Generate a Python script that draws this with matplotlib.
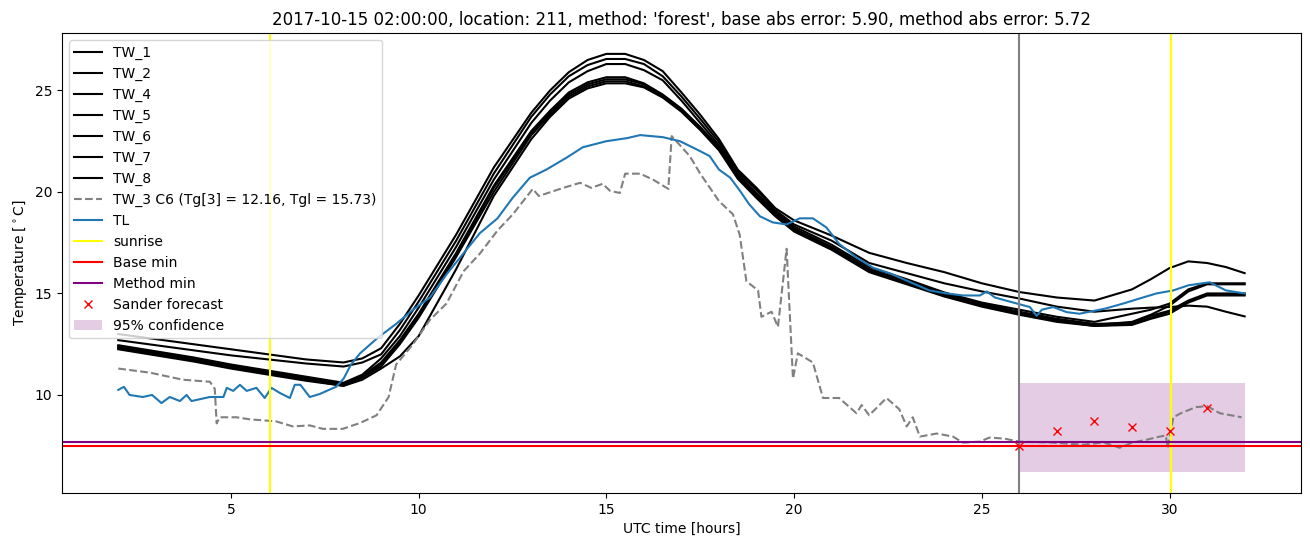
import numpy as np
import matplotlib
matplotlib.use("Agg")
import matplotlib.pyplot as plt

# time grid (hours) for the TW sensor lines
t_tw = [2, 3, 4, 5, 6, 7, 8, 8.5, 9, 9.5, 10, 11, 12, 13, 13.5, 14, 14.5, 15, 15.5, 16, 16.5, 17, 17.5,
        18, 18.5, 19, 19.5, 20, 21, 22, 23, 24, 25, 26, 27, 28, 29, 29.5, 30, 30.5, 31, 31.5, 32]

TW_1 = [13.0, 12.75, 12.5, 12.25, 12.0, 11.75, 11.6, 11.8, 12.3, 13.5, 14.9, 17.9, 21.2, 23.9, 25.0, 25.9,
        26.5, 26.8, 26.8, 26.5, 25.95, 24.9, 23.8, 22.6, 21.1, 20.2, 19.2, 18.6, 17.85, 17.0, 16.5, 16.05,
        15.5, 15.07, 14.8, 14.65, 15.2, 15.7, 16.25, 16.58, 16.5, 16.3, 16.0]
TW_2 = [12.7, 12.45, 12.2, 11.95, 11.75, 11.55, 11.4, 11.6, 12.0, 13.2, 14.6, 17.6, 20.9, 23.7, 24.8, 25.7,
        26.25, 26.55, 26.55, 26.3, 25.7, 24.7, 23.6, 22.45, 21.0, 20.1, 19.1, 18.4, 17.6, 16.5, 16.0, 15.5,
        15.1, 14.75, 14.35, 14.1, 14.25, 14.3, 14.33, 14.4, 14.35, 14.1, 13.87]
TW_4 = [12.45, 12.15, 11.85, 11.5, 11.2, 10.9, 10.6, 11.0, 11.8, 12.9, 14.3, 17.3, 20.6, 23.4, 24.5, 25.4,
        25.95, 26.3, 26.3, 26.0, 25.5, 24.5, 23.4, 22.3, 20.9, 19.95, 19.0, 18.3, 17.4, 16.3, 15.7, 15.05,
        14.55, 14.2, 13.85, 13.6, 14.0, 14.2, 14.5, 15.2, 15.5, 15.5, 15.5]
TW_5 = [12.4, 12.1, 11.8, 11.45, 11.15, 10.85, 10.55, 10.95, 11.6, 12.7, 14.0, 17.0, 20.3, 23.0, 24.0, 24.9,
        25.4, 25.65, 25.65, 25.35, 24.8, 24.1, 23.2, 22.2, 20.8, 19.85, 18.95, 18.2, 17.3, 16.2, 15.6, 15.0,
        14.5, 14.1, 13.75, 13.5, 13.55, 13.9, 14.15, 14.65, 15.0, 15.0, 15.0]
TW_6 = [12.35, 12.05, 11.75, 11.4, 11.1, 10.8, 10.5, 10.9, 11.5, 12.6, 13.9, 16.9, 20.2, 22.9, 23.9, 24.8,
        25.3, 25.55, 25.55, 25.3, 24.75, 24.05, 23.15, 22.15, 20.75, 19.8, 18.9, 18.15, 17.25, 16.15, 15.55,
        14.95, 14.45, 14.05, 13.7, 13.45, 13.6, 13.95, 14.4, 15.1, 15.45, 15.45, 15.45]
TW_7 = [12.3, 12.0, 11.7, 11.35, 11.05, 10.75, 10.45, 10.85, 11.4, 12.5, 13.8, 16.8, 20.0, 22.8, 23.8, 24.7,
        25.2, 25.45, 25.45, 25.2, 24.7, 24.0, 23.1, 22.1, 20.7, 19.75, 18.85, 18.1, 17.2, 16.1, 15.5, 14.9,
        14.4, 14.0, 13.65, 13.4, 13.5, 13.8, 14.1, 14.6, 14.95, 14.95, 14.95]
TW_8 = [12.25, 11.95, 11.65, 11.3, 11.0, 10.7, 10.45, 10.75, 11.3, 11.9, 12.9, 16.2, 19.8, 22.6, 23.7, 24.6,
        25.1, 25.35, 25.35, 25.15, 24.65, 23.95, 23.05, 22.05, 20.65, 19.7, 18.8, 18.05, 17.15, 16.05, 15.45,
        14.85, 14.35, 13.95, 13.6, 13.4, 13.45, 13.75, 14.0, 14.55, 14.9, 14.9, 14.9]

t_tw3 = [2.0, 2.84, 3.72, 4.44, 4.57, 4.62, 4.7, 5.15, 5.5, 6.2, 6.65, 7.1, 7.45, 7.98, 8.44, 8.88, 9.2, 9.4,
         9.85, 10.3, 10.74, 11.2, 11.63, 12.1, 12.51, 13.04, 13.2, 13.85, 14.3, 14.6, 14.9, 15.1, 15.36, 15.5,
         15.9, 16.25, 16.65, 16.74, 17.22, 17.5, 18.0, 18.37, 18.55, 18.73, 19.04, 19.13, 19.4, 19.57, 19.8,
         19.97, 20.1, 20.5, 20.77, 21.2, 21.66, 21.8, 22.0, 22.46, 22.8, 23.0, 23.16, 23.35, 23.8, 24.23, 24.5,
         24.95, 25.2, 25.6, 26.0, 26.8, 27.7, 28.25, 28.67, 29.0, 29.4, 29.74, 29.9, 29.95, 30.1, 30.3, 30.7,
         31.0, 31.34, 31.92]
TW_3 = [11.3, 11.1, 10.75, 10.65, 10.3, 8.6, 8.9, 8.9, 8.8, 8.7, 8.45, 8.5, 8.33, 8.33, 8.62, 9.0, 9.9, 11.5,
        12.5, 13.7, 14.5, 16.1, 16.96, 18.1, 18.9, 20.15, 19.8, 20.2, 20.45, 20.2, 20.4, 20.05, 19.95, 20.9,
        20.9, 20.6, 20.15, 22.75, 21.77, 20.9, 19.55, 18.9, 17.9, 15.6, 15.15, 13.85, 14.1, 13.35, 17.2,
        10.8, 12.05, 11.6, 9.85, 9.85, 9.1, 9.5, 9.0, 9.85, 9.3, 8.45, 8.9, 7.95, 8.1, 7.95, 7.65,
        7.7, 7.9, 7.85, 7.7, 7.66, 7.55, 7.66, 7.4, 7.65, 7.8, 7.95, 8.0, 7.4, 8.9, 9.1, 9.4,
        9.45, 9.1, 8.9]

t_tl = [2.0, 2.15, 2.3, 2.65, 2.9, 3.15, 3.37, 3.64, 3.82, 3.95, 4.44, 4.8, 4.89, 5.06, 5.24, 5.42, 5.68, 5.9,
        6.08, 6.3, 6.57, 6.7, 6.85, 7.1, 7.37, 7.55, 7.8, 8.0, 8.2, 8.44, 8.9, 9.4, 9.85, 10.3, 10.75, 11.63,
        12.1, 12.5, 12.96, 13.4, 13.95, 14.37, 15.0, 15.55, 15.9, 16.5, 16.96, 17.4, 17.75, 18.0, 18.3, 18.56,
        18.8, 19.09, 19.43, 19.8, 20.15, 20.5, 20.86, 21.2, 21.66, 22.1, 22.6, 23.16, 23.6, 24.06, 24.5,
        24.95, 25.13, 25.35, 25.8, 26.28, 26.46, 26.6, 26.9, 27.26, 27.6, 28.3, 28.76, 29.2, 29.65, 30.1,
        30.5, 31.07, 31.5, 32.0]
TL = [10.25, 10.4, 10.0, 9.9, 10.0, 9.6, 9.9, 9.7, 10.0, 9.7, 9.9, 9.9, 10.35, 10.2, 10.5, 10.2, 10.35, 9.85,
      10.35, 10.1, 9.85, 10.5, 10.5, 9.9, 10.05, 10.2, 10.4, 10.8, 11.5, 12.05, 12.8, 13.5, 14.2, 14.8, 15.96,
      17.97, 18.7, 19.7, 20.7, 21.1, 21.7, 22.2, 22.5, 22.65, 22.8, 22.7, 22.5, 22.1, 21.77, 21.1, 20.7, 20.05,
      19.4, 18.8, 18.5, 18.4, 18.7, 18.7, 18.25, 17.44, 16.77, 16.27, 15.96, 15.5, 15.15, 15.0, 14.9,
      14.9, 15.1, 14.8, 14.57, 14.33, 13.9, 14.2, 14.33, 14.08, 14.0, 14.26, 14.5, 14.75, 15.0, 15.15,
      15.4, 15.55, 15.15, 15.0]

sunrise = [6.04, 30.05]
now_hour = 26.0
base_min = 7.50
method_min = 7.68

t_sander = [26, 27, 28, 29, 30, 31]
sander = [7.5, 8.2, 8.7, 8.42, 8.24, 9.35]
conf_t = [26, 32]
conf_low = 6.2
conf_high = 10.6

fig = plt.figure(figsize=(13.1, 5.47), dpi=100)
ax = fig.add_axes([0.0473, 0.0987, 0.9458, 0.841])

for name, vals in [("TW_1", TW_1), ("TW_2", TW_2), ("TW_4", TW_4), ("TW_5", TW_5),
                   ("TW_6", TW_6), ("TW_7", TW_7), ("TW_8", TW_8)]:
    ax.plot(t_tw, vals, color="black", label=name)
ax.plot(t_tw3, TW_3, "--", color="gray", label="TW_3 C6 (Tg[3] = 12.16, Tgl = 15.73)")
ax.plot(t_tl, TL, label="TL")
ax.axvline(sunrise[0], color="yellow", label="sunrise")
ax.axvline(sunrise[1], color="yellow")
ax.axvline(now_hour, color="gray")
ax.axhline(base_min, color="red", label="Base min")
ax.axhline(method_min, color="purple", label="Method min")
ax.plot(t_sander, sander, "rx", label="Sander forecast")
ax.fill_between(conf_t, conf_low, conf_high, color="purple", alpha=0.2, linewidth=0, label="95% confidence")

ax.set_title("2017-10-15 02:00:00, location: 211, method: 'forest', base abs error: 5.90, method abs error: 5.72")
ax.set_xlabel("UTC time [hours]")
ax.set_ylabel(r"Temperature [$^\circ$C]")
ax.legend(loc="upper left")

fig.savefig("out.png")
